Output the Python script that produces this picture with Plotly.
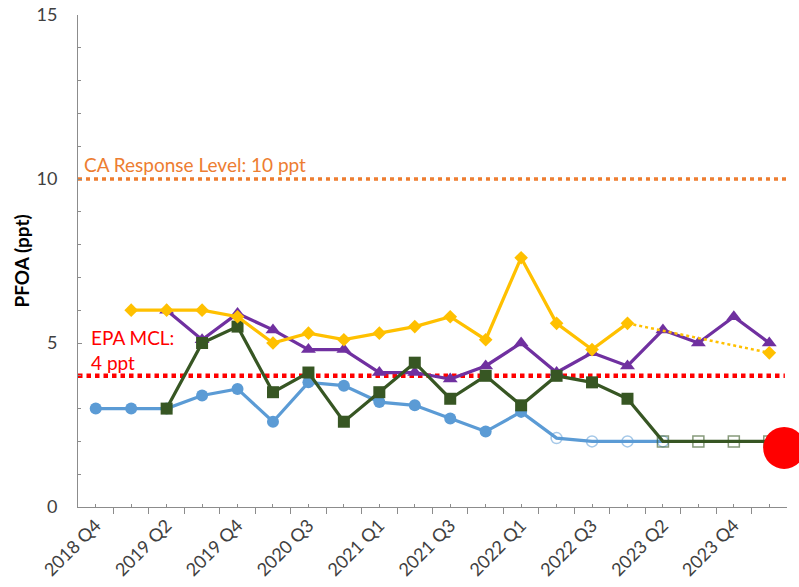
import plotly.graph_objects as go

# ---------------- data ----------------
quarters = ["2018 Q4", "2019 Q1", "2019 Q2", "2019 Q3", "2019 Q4", "2020 Q1",
            "2020 Q3", "2020 Q4", "2021 Q1", "2021 Q2", "2021 Q3", "2021 Q4",
            "2022 Q1", "2022 Q2", "2022 Q3", "2022 Q4", "2023 Q2", "2023 Q3",
            "2023 Q4", "2024 Q1"]

blue = [3.0, 3.0, 3.0, 3.4, 3.6, 2.6, 3.8, 3.7, 3.2, 3.1, 2.7, 2.3, 2.9,
        2.1, 2.0, 2.0, 2.0, None, None, None]
blue_nd = [False] * 13 + [True] * 4 + [False] * 3

green = [None, None, 3.0, 5.0, 5.5, 3.5, 4.1, 2.6, 3.5, 4.4, 3.3, 4.0, 3.1,
         4.0, 3.8, 3.3, 2.0, 2.0, 2.0, 2.0]
green_nd = [False] * 16 + [True] * 4

purple = [None, None, 6.0, 5.1, 5.9, 5.4, 4.8, 4.8, 4.1, 4.1, 3.9, 4.3, 5.0,
          4.1, 4.7, 4.3, 5.4, 5.0, 5.8, 5.0]

yellow = [None, 6.0, 6.0, 6.0, 5.8, 5.0, 5.3, 5.1, 5.3, 5.5, 5.8, 5.1, 7.6,
          5.6, 4.8, 5.6, None, None, None, 4.7]
yellow_solid_end = 15  # last index of the solid yellow segment

highlight_x = [19.42]
highlight_y = [1.8]

ca_response_level = 10
epa_mcl = 4

y_ticks = [0, 5, 10, 15]

# ---------------- styling ----------------
BLUE = "#5B9BD5"
BLUE_ND = "rgba(91,155,213,0.55)"
GREEN = "#375623"
GREEN_ND = "rgba(55,86,35,0.6)"
PURPLE = "#7030A0"
YELLOW = "#FFC000"
ORANGE = "#ED7D31"
RED = "#FF0000"
FONT = "Lato"
LW = 3.25

idx = list(range(len(quarters)))


def pick(vals, flags, want):
    return [v if (f == want) else None for v, f in zip(vals, flags)]


fig = go.Figure()

# blue series
fig.add_trace(go.Scatter(x=idx, y=blue, mode="lines", line=dict(color=BLUE, width=LW),
                         connectgaps=False, hoverinfo="skip", showlegend=False))
fig.add_trace(go.Scatter(x=idx, y=pick(blue, blue_nd, False), mode="markers",
                         marker=dict(symbol="circle", size=12, color=BLUE),
                         showlegend=False))
fig.add_trace(go.Scatter(x=idx, y=pick(blue, blue_nd, True), mode="markers",
                         marker=dict(symbol="circle-open", size=11, color=BLUE_ND,
                                     line=dict(width=1.5, color=BLUE_ND)),
                         showlegend=False))

# purple series
fig.add_trace(go.Scatter(x=idx, y=purple, mode="lines+markers",
                         line=dict(color=PURPLE, width=LW),
                         marker=dict(symbol="triangle-up", size=13, color=PURPLE),
                         showlegend=False))

# green series
fig.add_trace(go.Scatter(x=idx, y=green, mode="lines", line=dict(color=GREEN, width=LW),
                         hoverinfo="skip", showlegend=False))
fig.add_trace(go.Scatter(x=idx, y=pick(green, green_nd, False), mode="markers",
                         marker=dict(symbol="square", size=12, color=GREEN),
                         showlegend=False))
fig.add_trace(go.Scatter(x=idx, y=pick(green, green_nd, True), mode="markers",
                         marker=dict(symbol="square-open", size=11, color=GREEN_ND,
                                     line=dict(width=1.5, color=GREEN_ND)),
                         showlegend=False))

# yellow series: solid part + dotted bridge over missing quarters
fig.add_trace(go.Scatter(x=idx[:yellow_solid_end + 1], y=yellow[:yellow_solid_end + 1],
                         mode="lines+markers", line=dict(color=YELLOW, width=LW),
                         marker=dict(symbol="diamond", size=10.5, color=YELLOW),
                         showlegend=False))
fig.add_trace(go.Scatter(x=idx[yellow_solid_end:], y=yellow[yellow_solid_end:],
                         mode="lines", connectgaps=True,
                         line=dict(color=YELLOW, width=2.5, dash="dot"),
                         hoverinfo="skip", showlegend=False))
fig.add_trace(go.Scatter(x=idx[yellow_solid_end + 1:], y=yellow[yellow_solid_end + 1:],
                         mode="markers",
                         marker=dict(symbol="diamond", size=10.5, color=YELLOW),
                         showlegend=False))

# highlighted latest result
fig.add_trace(go.Scatter(x=highlight_x, y=highlight_y, mode="markers",
                         marker=dict(symbol="circle", size=42, color=RED),
                         cliponaxis=False, showlegend=False))

# reference levels
fig.add_shape(type="line", xref="paper", x0=0, x1=1, yref="y",
              y0=ca_response_level, y1=ca_response_level, layer="below",
              line=dict(color=ORANGE, width=3.5, dash="4px,4px"))
fig.add_shape(type="line", xref="paper", x0=0, x1=0.997, yref="y",
              y0=epa_mcl, y1=epa_mcl, layer="below",
              line=dict(color=RED, width=4.5, dash="4.5px,4px"))

fig.add_annotation(text=f"CA Response Level: {ca_response_level} ppt",
                   xref="paper", x=0.006, xanchor="left",
                   yref="y", y=ca_response_level + 0.43, yanchor="middle",
                   showarrow=False, font=dict(family=FONT, size=19, color=ORANGE))
fig.add_annotation(text=f"EPA MCL:<br>{epa_mcl} ppt",
                   xref="paper", x=0.016, xanchor="left", align="left",
                   yref="y", y=epa_mcl + 0.8, yanchor="middle",
                   showarrow=False, font=dict(family=FONT, size=19, color=RED))
fig.add_annotation(text="<b>PFOA (ppt)</b>", textangle=-90,
                   xref="paper", x=-0.081, xanchor="center",
                   yref="paper", y=0.5, yanchor="middle",
                   showarrow=False, font=dict(family=FONT, size=19, color="#000000"))

AXIS_GREY = "#8C8C8C"
fig.update_layout(
    width=799, height=587,
    margin=dict(l=78, r=12, t=15, b=80, autoexpand=False),
    paper_bgcolor="white", plot_bgcolor="white",
    font=dict(family=FONT, color="#404040"),
    xaxis=dict(
        range=[-0.5, len(quarters) - 0.5],
        tickmode="array", tickvals=idx,
        ticktext=[q if i % 2 == 0 else "" for i, q in enumerate(quarters)],
        tickangle=-45, tickfont=dict(family=FONT, size=18, color="#404040"),
        ticks="inside", ticklen=3, tickcolor=AXIS_GREY,
        minor=dict(tickmode="array",
                   tickvals=[i - 0.5 for i in range(len(quarters) + 1)],
                   ticks="outside", ticklen=6, tickcolor=AXIS_GREY),
        showline=True, linecolor=AXIS_GREY, linewidth=1,
        showgrid=False, zeroline=False, fixedrange=True,
    ),
    yaxis=dict(
        range=[0, 15], tickmode="array", tickvals=y_ticks,
        tickfont=dict(family=FONT, size=18, color="#404040"),
        ticks="inside", ticklen=4, tickcolor=AXIS_GREY,
        minor=dict(dtick=1, ticks="inside", ticklen=3, tickcolor=AXIS_GREY),
        showline=True, linecolor=AXIS_GREY, linewidth=1,
        showgrid=False, zeroline=False, ticklabelstandoff=16, fixedrange=True,
    ),
)

# remove the browser's default 8px page margin so the figure fills the window
fig.write_html("out.html",
               config={"displayModeBar": False, "staticPlot": True},
               post_script="document.body.style.margin='0';"
                           "document.body.style.overflow='hidden';")
